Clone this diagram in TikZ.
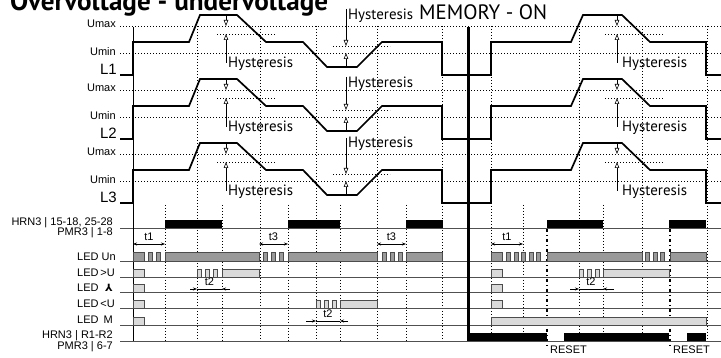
\documentclass[tikz,border=0pt]{standalone}
\usepackage{fontspec}
\usepackage{graphicx}
\setmainfont{Liberation Sans}
\newfontfamily\myr{PT Sans}
\newfontfamily\symfont{DejaVu Sans}
\usetikzlibrary{arrows.meta}
\definecolor{ungray}{HTML}{9A9A9A}
\definecolor{ledgray}{HTML}{DADADA}
\definecolor{rowline}{HTML}{505050}
\newcommand\hystxt{\resizebox{65pt}{!}{\myr\fontsize{15}{15}\selectfont Hysteresis}}
\begin{document}
\begin{tikzpicture}[x=1pt,y=-1pt,
 wave/.style={line width=1.7pt,line join=miter},
 dotl/.style={line width=0.7pt,dash pattern=on 0.7pt off 2.3pt},
 dashdot/.style={line width=1.6pt,dash pattern=on 3pt off 3pt on 1pt off 3pt},
 lab/.style={font=\fontsize{11}{11}\selectfont,inner sep=0pt,anchor=base east},
 ledl/.style={font=\fontsize{11}{11}\selectfont,inner sep=0pt,anchor=base west},
 bigl/.style={font=\fontsize{15}{15}\selectfont,inner sep=0pt,anchor=base east},
 htxt/.style={inner sep=0pt,anchor=base west},
 hys/.style={line width=0.6pt,-{Triangle[open,length=6pt,width=4.5pt,line width=0.6pt]}},
 rowl/.style={line width=0.8pt,draw=rowline},
 unb/.style={fill=ungray,draw=black!70,line width=0.6pt},
 ledb/.style={fill=ledgray,draw=black!70,line width=0.6pt},
 relb/.style={fill=black,draw=none},
 tarr/.style={line width=0.6pt,{Stealth[length=4pt,width=3pt]}-{Stealth[length=4pt,width=3pt]}},
 tipa/.style={line width=0.6pt,-{Stealth[length=4pt,width=3pt]}},
 tl/.style={font=\fontsize{11}{11}\selectfont,inner sep=0pt,anchor=base},
]
\useasboundingbox (0,0) rectangle (721,358);
\begin{scope}
\clip (0,0) rectangle (721,358);
\node[anchor=base west,inner sep=0pt] (title) at (10,11) {\resizebox{318pt}{!}{\myr\bfseries\fontsize{24}{24}\selectfont Overvoltage - undervoltage}};
\end{scope}

% vertical dotted grid
\foreach \x in {197,260,316,377,442,491,579,642,707} \draw[dotl] (\x,26) -- (\x,341);
\foreach \x in {165,222,288,340,406,523,603} \draw[dotl] (\x,205) -- (\x,341);
\foreach \x in {547,670} \draw[dashdot] (\x,229) -- (\x,349);

% row lines
\foreach \y in {228,261,277,292,308,325,341} \draw[rowl] (120,\y) -- (721,\y);

% channels
\foreach \o/\n in {0/1,64/2,128/3}{
 \begin{scope}[shift={(0,\o)}]
 \draw[dotl] (120,26) -- (721,26);
 \draw[dotl] (120,53) -- (721,53);
 \draw[dotl] (217,34) -- (275,34);
 \draw[dotl] (605,34) -- (663,34);
 \draw[dotl] (333,46) -- (390,46);
 \node[lab] (umax\n) at (116,28) {Umax};
 \node[lab] (umin\n) at (116,55.5) {Umin};
 \node[bigl] (L\n) at (117,74.5) {L\n};
 \draw[line width=0.8pt] (133,27) -- (133,75);
 \draw[wave] (120,75) -- (133,75) -- (133,42) -- (189,42) -- (200,15) -- (237,15) -- (266,42) -- (303,42) -- (327,67) -- (357,67) -- (382,42) -- (442,42) -- (442,75) -- (491,75) -- (491,42) -- (571,42) -- (583,15) -- (622,15) -- (650,42) -- (706,42) -- (706,75) -- (721,75);
 \draw[hys] (226,15) -- (226,26);
 \draw[hys] (226,63) -- (226,34);
 \node[htxt] (hu\n) at (228,68) {\hystxt};
 \draw[hys] (617,15) -- (617,26);
 \draw[hys] (617,63) -- (617,34);
 \node[htxt] (hm\n) at (622,68) {\hystxt};
 \draw[hys] (346,67) -- (346,53);
 \end{scope}}

% lower hysteresis arrows
\draw[hys] (346,9) -- (346,46);
\node[htxt] (hl1) at (348,19.5) {\hystxt};
\draw[hys] (346,77) -- (346,110);
\node[htxt] (hl2) at (348,88) {\hystxt};
\draw[hys] (346,138) -- (346,174);
\node[htxt] (hl3) at (348,148) {\hystxt};
\node[anchor=base west,inner sep=0pt] (mem) at (419,19.5) {\resizebox{128pt}{!}{\myr\fontsize{20}{20}\selectfont MEMORY - ON}};

% main verticals
\draw[line width=0.8pt] (133,75) -- (133,341);
\draw[line width=3.5pt] (468.5,27) -- (468.5,341);

% relay rows
\foreach \a/\b in {165/222,288/340,406/443,547/603,669/706} \fill[relb] (\a,220) rectangle (\b,228);
\foreach \a/\b in {468/547,564/669,687/706} \fill[relb] (\a,333) rectangle (\b,341);

% LED rows
\foreach \a/\b in {133/144,148/152,156/160,165/259,263/267,271/275,279/283,288/377,382/386,390/394,398/402,406/442,491/502,506/510,514/518,521/525,529/533,536/540,547/642,645/649,653/657,660/664,670/706}
  \filldraw[unb] (\a,252) rectangle (\b,261);
\foreach \a/\b in {133/144,197/201,205/209,213/217,222/259,491/502,579/583,587/591,595/599,603/669}
  \filldraw[ledb] (\a,269) rectangle (\b,277);
\foreach \a/\b in {133/144,491/502}
  \filldraw[ledb] (\a,284) rectangle (\b,292);
\foreach \a/\b in {133/144,316/320,324/328,332/336,340/377,491/502}
  \filldraw[ledb] (\a,300) rectangle (\b,308);
\foreach \a/\b in {133/144,491/706}
  \filldraw[ledb] (\a,317) rectangle (\b,325);

% labels lower
\node[lab] (hrn1) at (113,226) {HRN3 | 15-18, 25-28};
\node[lab] (pmr1) at (113,236) {PMR3 | 1-8};
\node[lab] (hrn2) at (113,339) {HRN3 | R1-R2};
\node[lab] (pmr2) at (113,350) {PMR3 | 6-7};
\foreach \y/\n in {260.5/a,276.5/b,291.5/c,307.5/d,324/e} \node[ledl] (led\n) at (77,\y) {LED};
\node[lab] (sa) at (116,260.5) {Un};
\node[lab] (sb) at (115,276.5) {>U};
\node[lab,font=\symfont\bfseries\fontsize{10}{10}\selectfont] (sc) at (113,291.5) {⅄};
\node[lab] (sd) at (115,307.5) {<U};
\node[lab] (se) at (113,324) {M};

% timing arrows
\draw[tarr] (133,244) -- (165,244); \node[tl] (t1a) at (149,241) {t1};
\draw[tarr] (259,244) -- (288,244); \node[tl] (t3a) at (273.5,241) {t3};
\draw[tarr] (377,244) -- (406,244); \node[tl] (t3b) at (391.5,241) {t3};
\draw[tarr] (491,244) -- (523,244); \node[tl] (t1b) at (507,241) {t1};
\draw[line width=0.6pt] (197,289) -- (222,289);
\draw[tipa] (190,289) -- (197,289); \draw[tipa] (230,289) -- (222,289);
\node[tl] (t2a) at (209.5,286) {t2};
\draw[line width=0.6pt] (579,289) -- (603,289);
\draw[tipa] (570,289) -- (579,289); \draw[tipa] (614,289) -- (603,289);
\node[tl] (t2b) at (591,286) {t2};
\draw[line width=0.6pt] (316,321) -- (340,321);
\draw[tipa] (306,321) -- (316,321); \draw[tipa] (348,321) -- (340,321);
\node[tl] (t2c) at (328,318) {t2};

% reset labels
\node[anchor=base west,inner sep=0pt,font=\fontsize{11}{11}\selectfont] (r1) at (550,353) {RESET};
\node[anchor=base west,inner sep=0pt,font=\fontsize{11}{11}\selectfont] (r2) at (673,353) {RESET};
\end{tikzpicture}
\end{document}
